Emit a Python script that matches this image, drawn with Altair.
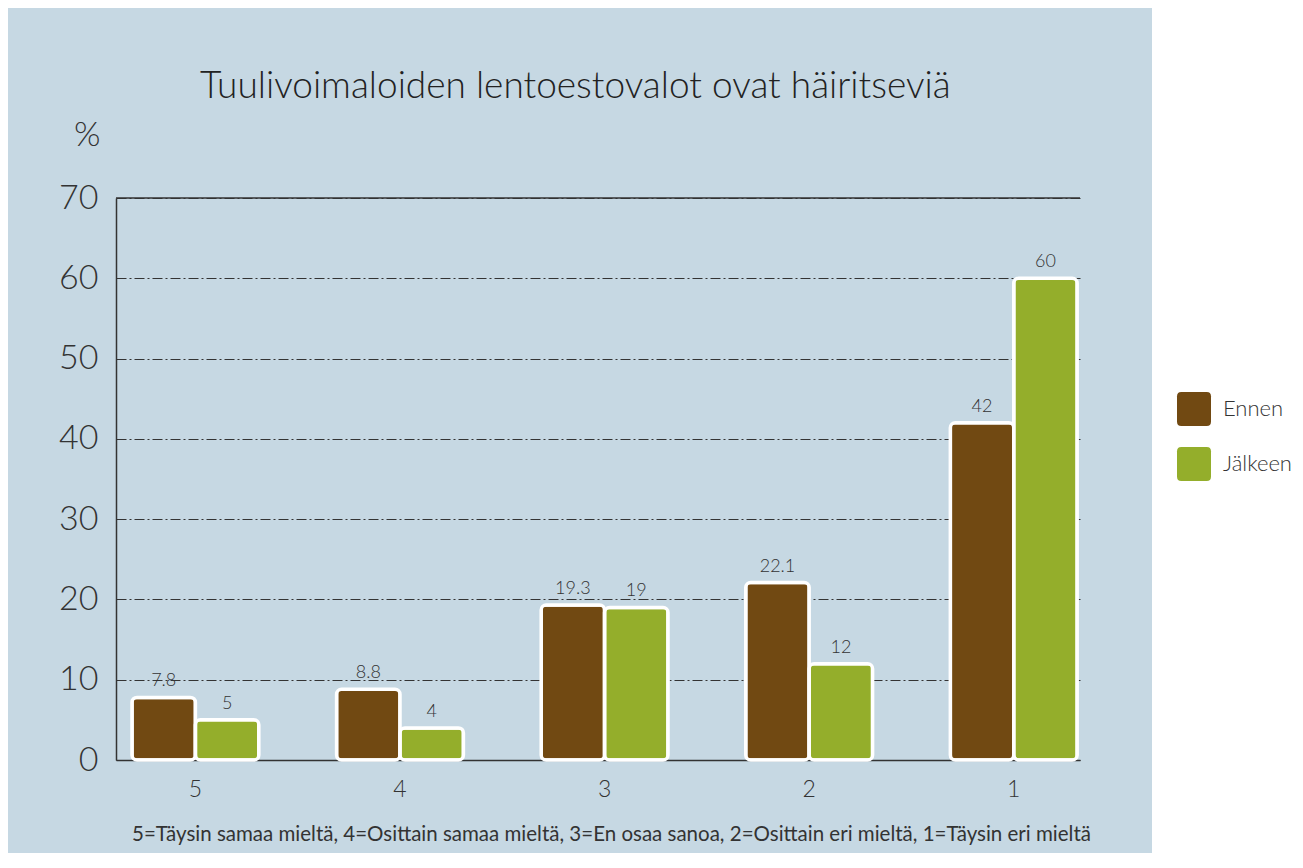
import altair as alt
import pandas as pd

# ---- data ----
categories = ["5", "4", "3", "2", "1"]
series_names = ["Ennen", "Jälkeen"]
ennen = [7.8, 8.8, 19.3, 22.1, 42]
jalkeen = [5, 4, 19, 12, 60]
y_ticks = [0, 10, 20, 30, 40, 50, 60, 70]
colors = ["#714912", "#94ae2b"]

title_text = "Tuulivoimaloiden lentoestovalot ovat häiritseviä"
footnote = "5=Täysin samaa mieltä, 4=Osittain samaa mieltä, 3=En osaa sanoa, 2=Osittain eri mieltä, 1=Täysin eri mieltä"

rows = []
for c, e, j in zip(categories, ennen, jalkeen):
    rows.append({"cat": c, "series": "Ennen", "value": e, "label": f"{e:g}"})
    rows.append({"cat": c, "series": "Jälkeen", "value": j, "label": f"{j:g}"})
df = pd.DataFrame(rows)

FONT = "Lato"
TXT = "#333333"
BG = "#c6d8e3"

x_enc = alt.X(
    "cat:N",
    sort=categories,
    scale=alt.Scale(paddingInner=0.38, paddingOuter=0.046, align=0.85),
    axis=alt.Axis(
        labelAngle=0, ticks=False, domainColor=TXT, domainWidth=1.5,
        labelPadding=18, labelFontSize=23, labelColor=TXT, labelFont=FONT,
        labelFontWeight=300,
        title=footnote, titleX=495, titleY=80, titleAlign="center",
        titleBaseline="alphabetic", titleFontSize=20.5,
        titleFont=FONT, titleFontWeight="normal", titleColor=TXT,
    ),
)
xoff_enc = alt.XOffset("series:N", sort=series_names,
                       scale=alt.Scale(paddingInner=0, paddingOuter=0))
y_enc = alt.Y(
    "value:Q",
    scale=alt.Scale(domain=[0, 70], nice=False),
    axis=alt.Axis(
        values=y_ticks, grid=True, gridDash=[10, 3, 2, 3], gridColor=TXT, gridWidth=1,
        domainColor=TXT, domainWidth=1.5, ticks=False, labelPadding=18,
        labelFontSize=34, labelColor=TXT, labelFont=FONT, labelFontWeight=300,
        title="%", titleAngle=0, titleX=-16, titleY=-53, titleAlign="right",
        titleBaseline="alphabetic", titleFontSize=34, titleFont=FONT,
        titleFontWeight=300, titleColor=TXT,
    ),
)

# white area to the right of the blue panel (legend sits on white)
white_area = alt.Chart(alt.Data(values=[{"k": 0}])).mark_rect(color="white").encode(
    x=alt.value(1036), x2=alt.value(1320), y=alt.value(-190), y2=alt.value(720)
)

rounded = "M-0.75,-1H0.75Q1,-1 1,-0.75V0.75Q1,1 0.75,1H-0.75Q-1,1 -1,0.75V-0.75Q-1,-1 -0.75,-1Z"

bars = alt.Chart(df).mark_bar(cornerRadius=5, stroke="white", strokeWidth=3.5).encode(
    x=x_enc,
    xOffset=xoff_enc,
    y=y_enc,
    color=alt.Color(
        "series:N",
        scale=alt.Scale(domain=series_names, range=colors),
        legend=alt.Legend(
            title=None, orient="none", legendX=1061, legendY=194,
            symbolType=rounded, symbolSize=1156, symbolStrokeWidth=0,
            symbolOpacity=1, labelFontSize=22, labelFont=FONT, labelColor=TXT,
            labelFontWeight=300, rowPadding=21, labelOffset=12,
        ),
    ),
)

labels = alt.Chart(df).mark_text(
    baseline="alphabetic", dy=-11, fontSize=18, font=FONT, fontWeight=300, color=TXT
).encode(
    x=alt.X("cat:N", sort=categories),
    xOffset=alt.XOffset("series:N", sort=series_names),
    y=alt.Y("value:Q"),
    text="label:N",
)

top_rule = alt.Chart(alt.Data(values=[{"k": 0}])).mark_rule(color=TXT, strokeWidth=1.5).encode(
    y=alt.datum(70)
)

chart = alt.layer(white_area, bars, labels, top_rule).properties(
    width=964,
    height=562,
    padding={"left": 108, "top": 190, "right": 215, "bottom": 93},
    autosize=alt.AutoSizeParams(type="none"),
    background=BG,
    title=alt.TitleParams(
        title_text, anchor="start", frame="group", dx=84, offset=-127,
        baseline="alphabetic", fontSize=37, font=FONT, fontWeight=300, color="#222222",
    ),
).configure_view(stroke=None)

chart.save("out.html", embed_options={"renderer": "svg", "actions": False})
